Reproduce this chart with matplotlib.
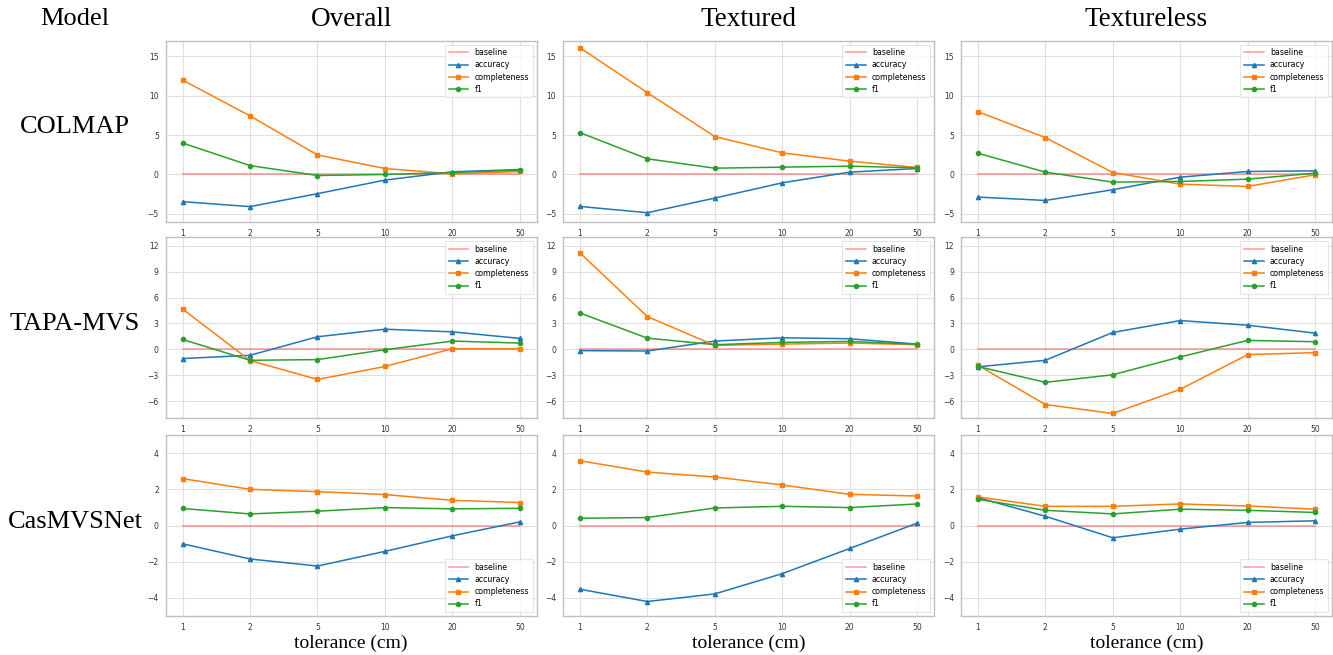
import numpy as np
import matplotlib
matplotlib.use('Agg')
import matplotlib.pyplot as plt

tolerances = ['1', '2', '5', '10', '20', '50']
models = ['COLMAP', 'TAPA-MVS', 'CasMVSNet']
subsets = ['Overall', 'Textured', 'Textureless']

# COLMAP
colmap_overall_acc = [-3.45, -4.08, -2.44, -0.71, 0.34, 0.63]
colmap_overall_comp = [12.0, 7.44, 2.48, 0.76, 0.08, 0.38]
colmap_overall_f1 = [4.0, 1.13, -0.13, 0.0, 0.25, 0.55]
colmap_textured_acc = [-4.06, -4.86, -3.0, -1.06, 0.30, 0.76]
colmap_textured_comp = [16.1, 10.4, 4.82, 2.75, 1.69, 0.89]
colmap_textured_f1 = [5.32, 1.99, 0.80, 0.93, 1.06, 0.84]
colmap_textureless_acc = [-2.87, -3.3, -1.94, -0.34, 0.38, 0.46]
colmap_textureless_comp = [7.98, 4.69, 0.25, -1.23, -1.52, -0.04]
colmap_textureless_f1 = [2.70, 0.30, -0.97, -0.89, -0.59, 0.17]

# TAPA-MVS
tapa_overall_acc = [-1.07, -0.69, 1.46, 2.34, 2.03, 1.27]
tapa_overall_comp = [4.68, -1.3, -3.49, -1.99, 0.08, 0.08]
tapa_overall_f1 = [1.15, -1.27, -1.19, -0.04, 0.96, 0.73]
tapa_textured_acc = [-0.15, -0.19, 0.96, 1.34, 1.23, 0.61]
tapa_textured_comp = [11.2, 3.8, 0.46, 0.61, 0.73, 0.54]
tapa_textured_f1 = [4.22, 1.3, 0.54, 0.8, 0.92, 0.58]
tapa_textureless_acc = [-2.03, -1.27, 1.96, 3.34, 2.8, 1.88]
tapa_textureless_comp = [-1.84, -6.4, -7.44, -4.64, -0.61, -0.38]
tapa_textureless_f1 = [-1.99, -3.83, -2.95, -0.88, 1.04, 0.88]

# CasMVSNet
cas_overall_acc = [-1.01, -1.85, -2.24, -1.43, -0.57, 0.2]
cas_overall_comp = [2.59, 2.0, 1.87, 1.71, 1.39, 1.27]
cas_overall_f1 = [0.94, 0.64, 0.79, 0.99, 0.92, 0.95]
cas_textured_acc = [-3.52, -4.2, -3.78, -2.66, -1.27, 0.13]
cas_textured_comp = [3.58, 2.95, 2.68, 2.24, 1.72, 1.63]
cas_textured_f1 = [0.40, 0.44, 0.97, 1.06, 0.99, 1.19]
cas_textureless_acc = [1.54, 0.51, -0.68, -0.2, 0.17, 0.26]
cas_textureless_comp = [1.58, 1.06, 1.06, 1.19, 1.08, 0.9]
cas_textureless_f1 = [1.45, 0.84, 0.64, 0.9, 0.84, 0.72]

data = [
    [(colmap_overall_acc, colmap_overall_comp, colmap_overall_f1),
     (colmap_textured_acc, colmap_textured_comp, colmap_textured_f1),
     (colmap_textureless_acc, colmap_textureless_comp, colmap_textureless_f1)],
    [(tapa_overall_acc, tapa_overall_comp, tapa_overall_f1),
     (tapa_textured_acc, tapa_textured_comp, tapa_textured_f1),
     (tapa_textureless_acc, tapa_textureless_comp, tapa_textureless_f1)],
    [(cas_overall_acc, cas_overall_comp, cas_overall_f1),
     (cas_textured_acc, cas_textured_comp, cas_textured_f1),
     (cas_textureless_acc, cas_textureless_comp, cas_textureless_f1)],
]

row_ylim = [(-6, 17), (-8, 13), (-5, 5)]
row_yticks = [[-5, 0, 5, 10, 15], [-6, -3, 0, 3, 6, 9, 12], [-4, -2, 0, 2, 4]]
row_legend = ['upper right', 'upper right', 'lower right']

W, H = 1333, 655
fig = plt.figure(figsize=(W / 100, H / 100), dpi=100)

col_left = [165.7, 563, 961]
col_w = 371
row_top = [40.7, 237.3, 435]
row_h = 181

serif = 'Liberation Serif'
x = np.arange(len(tolerances))

for r in range(3):
    for c in range(3):
        ax = fig.add_axes([col_left[c] / W, 1 - (row_top[r] + row_h) / H,
                           col_w / W, row_h / H])
        acc, comp, f1 = data[r][c]
        ax.plot(x, np.zeros(len(x)), color='red', alpha=0.4, lw=1.1, label='baseline')
        ax.plot(x, acc, color='C0', marker='^', ms=3, lw=1.1, label='accuracy')
        ax.plot(x, comp, color='C1', marker='s', ms=3, lw=1.1, label='completeness')
        ax.plot(x, f1, color='C2', marker='o', ms=3, lw=1.1, label='f1')
        ax.set_xticks(x)
        ax.set_xticklabels(tolerances)
        ax.set_xlim(-0.25, 5.25)
        ax.set_ylim(*row_ylim[r])
        ax.set_yticks(row_yticks[r])
        ax.grid(True, color='#e0e0e0', lw=0.8)
        ax.set_axisbelow(True)
        for s in ax.spines.values():
            s.set_color('#c0c0c0')
            s.set_linewidth(1.0)
        ax.tick_params(length=0, labelsize=5.5, labelcolor='#333333', pad=5)
        leg = ax.legend(loc=row_legend[r], fontsize=5.7, handlelength=2.5,
                        labelspacing=0.4, borderpad=0.45,
                        frameon=True, fancybox=False)
        leg.get_frame().set_edgecolor('#e0e0e0')
        leg.get_frame().set_linewidth(0.8)

# titles and labels
fig.text(75 / W, 1 - 19 / H, 'Model', family=serif, fontsize=19,
         ha='center', va='center')
for c, name in enumerate(subsets):
    fig.text((col_left[c] + col_w / 2) / W, 1 - 19 / H, name, family=serif,
             fontsize=19.5, ha='center', va='center')
    fig.text((col_left[c] + col_w / 2) / W, 1 - 643 / H, 'tolerance (cm)',
             family=serif, fontsize=14, ha='center', va='center')
for r, name in enumerate(models):
    fig.text(75 / W, 1 - (row_top[r] + row_h / 2 - 4) / H, name, family=serif,
             fontsize=19, ha='center', va='center')

fig.savefig('out.png', dpi=100)
